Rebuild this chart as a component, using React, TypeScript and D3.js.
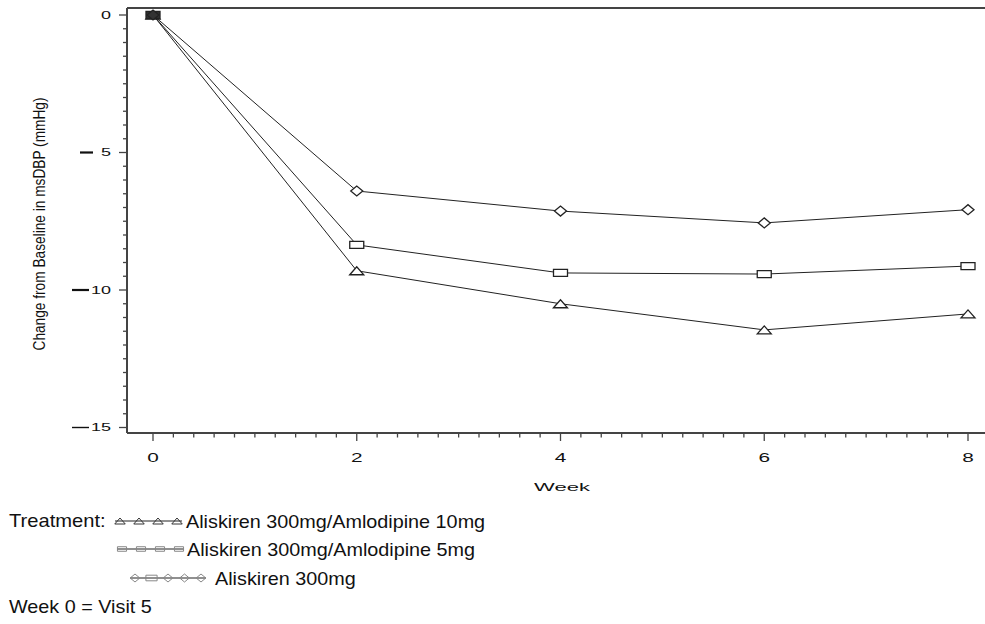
import React from "react";
import * as d3 from "d3";

// weeks on the x axis
const weeks = [0, 2, 4, 6, 8];
// change from baseline in msDBP (mmHg), per treatment
const amlo10 = [0, -9.3, -10.5, -11.45, -10.87];
const amlo5 = [0, -8.36, -9.38, -9.42, -9.13];
const aliskOnly = [0, -6.4, -7.13, -7.56, -7.08];

const seriesNames = [
  "Aliskiren 300mg/Amlodipine 10mg",
  "Aliskiren 300mg/Amlodipine 5mg",
  "Aliskiren 300mg",
];
const yMajor = [0, -5, -10, -15];
const xMajor = [0, 2, 4, 6, 8];

const W = 985;
const H = 624;
const left = 127;
const top = 8;
const bottom = 433;

// markers, squashed like in the original print
const tri = (cx: number, cy: number, k = 1) =>
  `M${cx - 7 * k},${cy + 4 * k}L${cx},${cy - 4 * k}L${cx + 7 * k},${cy + 4 * k}Z`;
const sq = (cx: number, cy: number, k = 1) =>
  `M${cx - 7 * k},${cy - 3.5 * k}h${14 * k}v${7 * k}h${-14 * k}Z`;
const dia = (cx: number, cy: number, k = 1) =>
  `M${cx - 6 * k},${cy}L${cx},${cy - 5 * k}L${cx + 6 * k},${cy}L${cx},${cy + 5 * k}Z`;

const App = () => {
  const x = d3.scaleLinear().domain([0, 8]).range([153, 968]);
  const y = d3.scaleLinear().domain([0, -15]).range([15, 427.5]);

  const line = d3
    .line<number>()
    .x((_, i) => x(weeks[i]))
    .y((d) => y(d));

  const series = [
    { vals: amlo10, mark: tri },
    { vals: amlo5, mark: sq },
    { vals: aliskOnly, mark: dia },
  ];

  const yTicks = d3.range(0, -15.001, -0.5);
  const xTicks = d3.range(0, 8.001, 0.2);

  const axisColor = "#444";
  const font = "'Liberation Sans', Arial, sans-serif";

  // legend rows
  const legRows = [
    { y: 521, marks: [tri, tri, tri, tri], x0: 120, step: 19, k: 0.75, textX: 186 },
    { y: 549, marks: [sq, sq, sq, sq], x0: 122, step: 19, k: 0.65, textX: 187 },
    { y: 578, marks: [dia, sq, dia, dia, dia], x0: 135, step: 16.5, k: 0.8, textX: 215 },
  ];

  return (
    <svg
      width={W}
      height={H}
      style={{ position: "absolute", left: 0, top: 0, background: "#fff" }}
      fontFamily={font}
    >
      {/* frame */}
      <line x1={left} x2={W} y1={top} y2={top} stroke={axisColor} strokeWidth={2} />
      <line x1={left} x2={left} y1={top} y2={bottom} stroke={axisColor} strokeWidth={2} />
      <line x1={left} x2={W} y1={bottom} y2={bottom} stroke={axisColor} strokeWidth={2} />

      {/* y ticks */}
      {yTicks.map((t) => {
        const major = Math.abs(t % 5) < 1e-6;
        return (
          <line
            key={"yt" + t}
            x1={left - (major ? 8 : 4)}
            x2={left}
            y1={y(t)}
            y2={y(t)}
            stroke={axisColor}
            strokeWidth={1.3}
          />
        );
      })}
      {yMajor.map((t) => {
        const s = String(Math.abs(t));
        return (
          <g key={"yl" + t}>
            {t < 0 && (
              <line
                x1={t === -5 ? 80 : 72}
                x2={t === -5 ? 93 : 89}
                y1={y(t)}
                y2={y(t)}
                stroke="#111"
                strokeWidth={t === -15 ? 1.4 : 2.2}
              />
            )}
            <text
              transform={`translate(111,${y(t) + 3.6}) scale(1.8,1)`}
              textAnchor="end"
              fontSize={10}
              fill="#111"
            >
              {s}
            </text>
          </g>
        );
      })}

      {/* x ticks */}
      {xTicks.map((t) => {
        const major = Math.abs(t - Math.round(t / 2) * 2) < 1e-6;
        return (
          <line
            key={"xt" + t.toFixed(1)}
            x1={x(t)}
            x2={x(t)}
            y1={bottom}
            y2={bottom + (major ? 8 : 4.5)}
            stroke={axisColor}
            strokeWidth={1.3}
          />
        );
      })}
      {xMajor.map((t) => (
        <text
          key={"xl" + t}
          transform={`translate(${x(t)},462) scale(1.6,1)`}
          textAnchor="middle"
          fontSize={13}
          fill="#111"
        >
          {t}
        </text>
      ))}

      {/* axis titles */}
      <text
        transform="translate(562,491) scale(2,1)"
        textAnchor="middle"
        fontSize={11}
        fill="#111"
      >
        Week
      </text>
      <text
        transform="translate(45,224) rotate(-90)"
        textAnchor="middle"
        fontSize={16}
        fill="#111"
        textLength={253}
        lengthAdjust="spacingAndGlyphs"
      >
        Change from Baseline in msDBP (mmHg)
      </text>

      {/* series */}
      {series.map((s, i) => (
        <g key={"s" + i}>
          <path d={line(s.vals) || ""} fill="none" stroke="#222" strokeWidth={1} />
          {s.vals.map((v, j) => (
            <path
              key={j}
              d={s.mark(x(weeks[j]), y(v))}
              fill={j === 0 ? "#333" : "#fff"}
              stroke="#222"
              strokeWidth={1.3}
            />
          ))}
        </g>
      ))}

      {/* legend */}
      <text transform="translate(9,527) scale(1.12,1)" fontSize={18} fill="#111">
        Treatment:
      </text>
      {legRows.map((r, i) => {
        const xs = r.marks.map((_, k) => r.x0 + k * r.step);
        return (
          <g key={"lg" + i}>
            <line
              x1={xs[0] - 5}
              x2={xs[xs.length - 1] + 5}
              y1={r.y}
              y2={r.y}
              stroke="#222"
              strokeWidth={1.2}
            />
            {r.marks.map((m, k) => (
              <path
                key={k}
                d={m(xs[k], r.y, r.k)}
                fill="none"
                stroke={i === 0 ? "#333" : "#888"}
                strokeWidth={1}
              />
            ))}
            <text
              transform={`translate(${r.textX},${r.y + 6.5}) scale(1.1,1)`}
              fontSize={18}
              fill="#111"
            >
              {seriesNames[i]}
            </text>
          </g>
        );
      })}
      <text transform="translate(9,613) scale(1.1,1)" fontSize={18} fill="#111">
        Week 0 = Visit 5
      </text>
    </svg>
  );
};

export default App;
